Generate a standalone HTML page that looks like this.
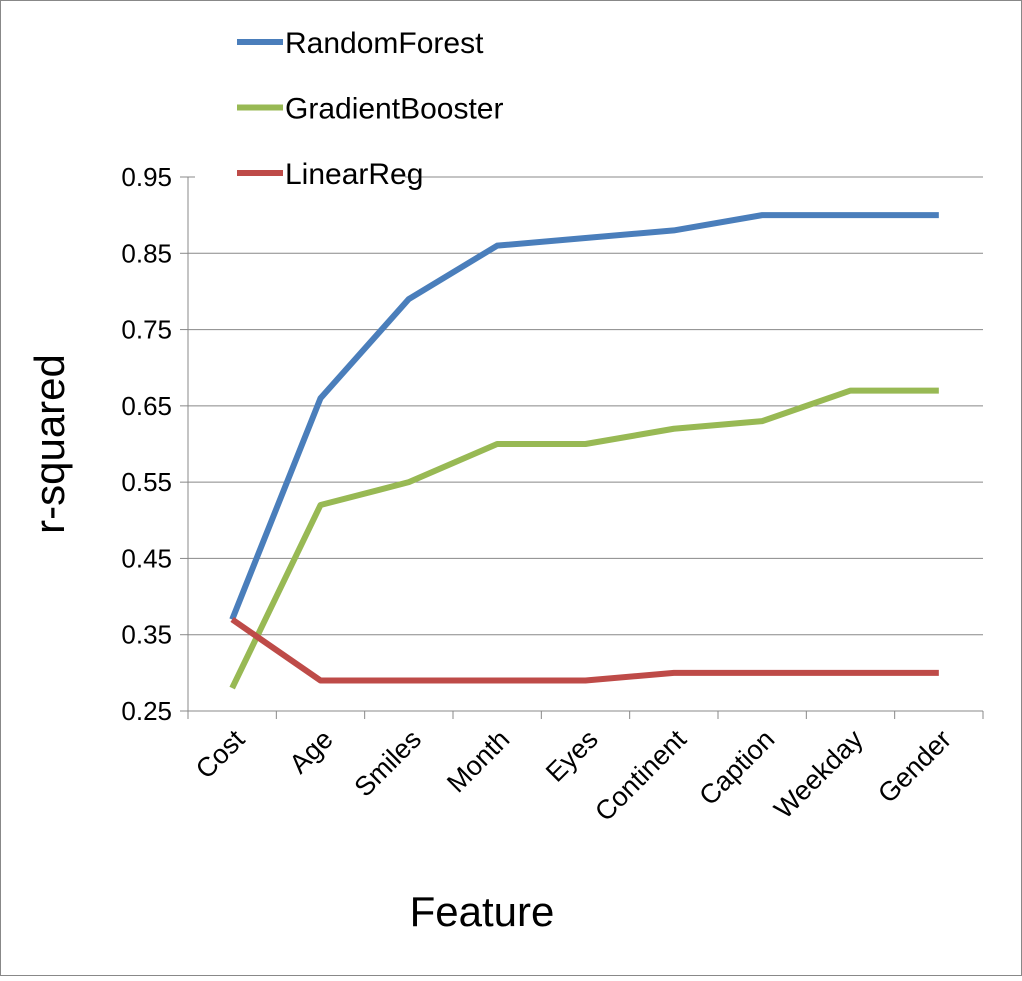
<!DOCTYPE html>
<html><head><meta charset="utf-8"><style>
body{margin:0;background:#fff;}
svg text{font-family:"Liberation Sans",sans-serif;fill:#000;}
</style></head><body>
<svg id="chart" width="1022" height="976" xmlns="http://www.w3.org/2000/svg">
<rect x="0.5" y="0.5" width="1021" height="975" fill="#fff" stroke="#888"/>
<g id="grid"></g><g id="axes"></g><g id="series"></g><g id="legend"></g>
<text x="482" y="926" font-size="42" text-anchor="middle">Feature</text>
<text transform="translate(64,444) rotate(-90)" font-size="42" text-anchor="middle">r-squared</text>
</svg>
<script>
const categories=["Cost","Age","Smiles","Month","Eyes","Continent","Caption","Weekday","Gender"];
const randomForest=[0.37,0.66,0.79,0.86,0.87,0.88,0.90,0.90,0.90];
const gradientBooster=[0.28,0.52,0.55,0.60,0.60,0.62,0.63,0.67,0.67];
const linearReg=[0.37,0.29,0.29,0.29,0.29,0.30,0.30,0.30,0.30];
const yTicks=[0.25,0.35,0.45,0.55,0.65,0.75,0.85,0.95];
const seriesNames=["RandomForest","GradientBooster","LinearReg"];
const NS="http://www.w3.org/2000/svg";
const L=188,R=983,T=177,B=711,yMin=0.25,yMax=0.95;
const bw=(R-L)/categories.length;
const xs=i=>L+bw*(i+0.5);
const ys=v=>B-(v-yMin)/(yMax-yMin)*(B-T);
function mk(tag,attrs,parent){const e=document.createElementNS(NS,tag);for(const k in attrs)e.setAttribute(k,attrs[k]);parent.appendChild(e);return e;}
const grid=document.getElementById('grid'),axes=document.getElementById('axes');
yTicks.forEach(v=>{
 const g=mk('line',{x1:L,x2:R,y1:ys(v),y2:ys(v),stroke:'#888','stroke-width':1},grid);
 
 
 const t=mk('line',{x1:L-8,x2:L,y1:ys(v),y2:ys(v),stroke:'#888'},axes);
 
 
 const tx=mk('text',{x:L-16,y:ys(v)+9,'font-size':26,'text-anchor':'end'},axes);
 tx.textContent=v.toFixed(2);
 
 
});
const ya=mk('line',{x1:L,x2:L,y1:T,y2:B,stroke:'#888'},axes);


const xa=mk('line',{x1:L,x2:R,y1:B,y2:B,stroke:'#888'},axes);


for(let i=0;i<=categories.length;i++){
 const t=mk('line',{x1:L+bw*i,x2:L+bw*i,y1:B,y2:B+8,stroke:'#888'},axes);
 
 
}
categories.forEach((c,i)=>{
 const x=xs(i)+14,y=B+30;
 const t=mk('text',{x:x,y:y,'font-size':27,'text-anchor':'end',transform:`rotate(-45 ${x} ${y})`},axes);
 t.textContent=c;
 
 
});
const colors=["#4a7ebb","#98b954","#be4b48"];
const sg=document.getElementById('series');
[randomForest,gradientBooster,linearReg].forEach((d,k)=>{
 const p=mk('polyline',{points:d.map((v,i)=>xs(i)+','+ys(v)).join(' '),fill:'none',stroke:colors[k],'stroke-width':6,'stroke-linejoin':'round'},sg);
 
 
});
const lg=document.getElementById('legend');
const bg=mk('rect',{x:195,y:10,width:210,height:180,fill:'#fff'},lg);


seriesNames.forEach((n,k)=>{
 const y=42+k*65.5;
 const g=mk('g',{},lg);
 
 
 mk('line',{x1:237,x2:283,y1:y,y2:y,stroke:colors[k],'stroke-width':6},g);
 const t=mk('text',{x:285,y:y+11,'font-size':30},g);
 t.textContent=n;
});
</script>
</body></html>
